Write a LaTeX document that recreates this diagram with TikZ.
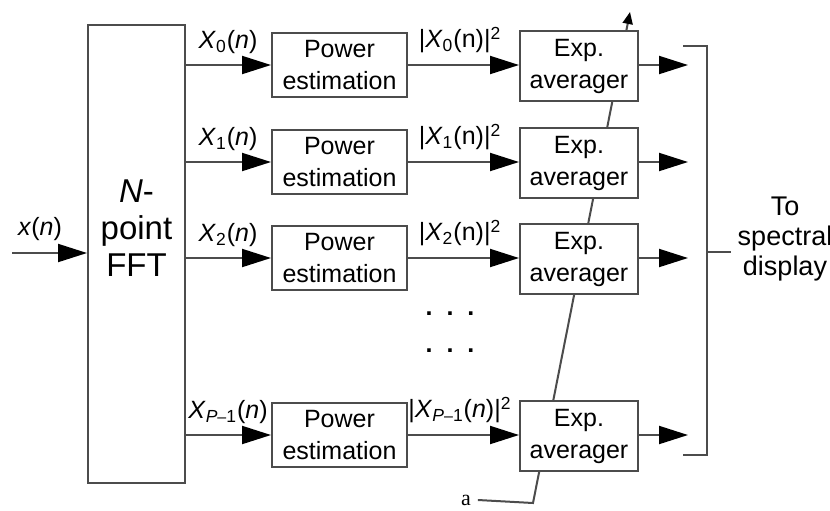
\documentclass[tikz,border=0pt]{standalone}
\usepackage{fontspec}
\setmainfont{Liberation Sans}
\newfontfamily\serifa{Liberation Serif}
\usetikzlibrary{arrows.meta}

\begin{document}
\begin{tikzpicture}[x=0.5pt, y=-0.5pt,
  every node/.style={font=\fontsize{12.5}{14.5}\selectfont},
  line/.style={draw=black!70, line width=1pt},
  arr/.style={line, -{Triangle[length=14.5pt, width=9pt, color=black]}},
  blk/.style={line, fill=white, align=center, inner sep=0pt,
    font=\fontsize{12.5}{16}\selectfont},
  pwr/.style={blk, minimum width=67.5pt, minimum height=32pt},
  expa/.style={blk, minimum width=59pt, minimum height=35pt}]
  \useasboundingbox (0,0) rectangle (830,510);

  % Averaging constant a, passes behind the averagers
  \node[font=\serifa\fontsize{11}{13}\selectfont] (alab) at (466,500) {a};
  \coordinate (abot) at (533,503);
  \coordinate (atop) at (630,12);
  \draw[line, -{Triangle[length=6pt, width=5pt, color=black]}]
    (alab.east) -- (abot) -- (atop);

  % FFT
  \node[blk, minimum width=48.5pt, minimum height=229pt] (fft) at (136.5,254) {};
  \node[align=center, font=\fontsize{16.5}{18.5}\selectfont] (fftlab) at (136.5,228)
    {\textit{N}-\\point\\FFT};
  \coordinate (xin) at (12,253);
  \draw[arr] (xin) -- (xin -| fft.west);
  \node (xlab) at (40,229) {\textit{x}(\textit{n})};

  % Branches
  \foreach \i/\y/\k/\sq in {0/65/0/n, 1/162/1/n, 2/258/2/n,
                            3/435/{\textit{P}{\fontsize{8}{9}\selectfont --}1}/\textit{n}} {
    \node[pwr] (pw\i) at (339.5,\y) {Power\\estimation};
    \node[expa] (ex\i) at (579,\y+1) {Exp.\\averager};
    \coordinate (out\i) at (688,\y);
    \draw[arr] (fft.east |- pw\i.west) -- (pw\i.west);
    \draw[arr] (pw\i.east) -- (ex\i.west |- pw\i.east);
    \draw[arr] (ex\i.east |- out\i) -- (out\i);
    \node (xl\i) at (228,\y-23) {\textit{X}\textsubscript{\k}(\textit{n})};
    \node (ml\i) at (460,\y-25) {|\textit{X}\textsubscript{\k}(\sq)|\textsuperscript{2}};
  }

  % Missing rows
  \node[font=\bfseries\fontsize{12.5}{14.5}\selectfont] (dots1) at (450,314) {.\ \ .\ \ .};
  \node[font=\bfseries\fontsize{12.5}{14.5}\selectfont] (dots2) at (450,351) {.\ \ .\ \ .};

  % Bracket to display
  \coordinate (bt) at (683,46);
  \coordinate (bb) at (683,455);
  \coordinate (bm) at (707,252);
  \draw[line] (bt) -- (bt -| bm) -- (bb -| bm) -- (bb);
  \node[align=center, font=\fontsize{13.5}{15}\selectfont] (disp) at (785,239)
    {To\\spectral\\display};
  \draw[line] (bm) -- (disp.west |- bm);
\end{tikzpicture}
\end{document}
